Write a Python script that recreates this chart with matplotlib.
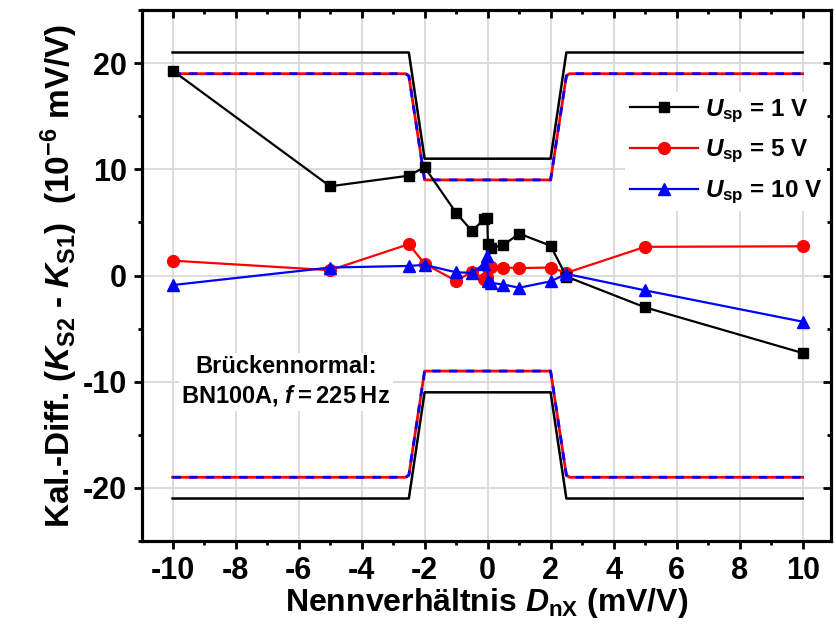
import matplotlib
matplotlib.use("Agg")
import matplotlib.pyplot as plt
from matplotlib.ticker import MultipleLocator

# Messdaten (Kal.-Diff. in 1e-6 mV/V)
x_data = [-10, -5, -2.5, -2, -1, -0.5, -0.1, -0.01, 0.01, 0.1, 0.5, 1, 2, 2.5, 5, 10]
u1 = [19.3, 8.4, 9.4, 10.2, 5.9, 4.2, 5.3, 5.45, 3.0, 2.6, 2.85, 3.95, 2.8, -0.1, -3.0, -7.3]
u5 = [1.4, 0.5, 2.95, 1.1, -0.5, 0.35, -0.3, -0.1, 0.7, 0.8, 0.75, 0.7, 0.75, 0.25, 2.7, 2.75]
u10 = [-0.9, 0.75, 0.9, 1.0, 0.3, 0.25, 1.1, 1.8, -0.5, -0.7, -0.85, -1.15, -0.55, 0.15, -1.4, -4.35]

# Grenzlinien
lim_x = [-10, -2.5, -2, 2, 2.5, 10]
lim_black = [21, 21, 11, 11, 21, 21]
lim2_x = [-10, -2.6, -2.5, -2, 2, 2.5, 2.6, 10]
lim_rb = [19, 19, 18.8, 9, 9, 18.8, 19, 19]

plt.rcParams['font.family'] = ['Liberation Sans', 'DejaVu Sans']
plt.rcParams['axes.unicode_minus'] = False
plt.rcParams['mathtext.fontset'] = 'custom'
plt.rcParams['mathtext.rm'] = 'Liberation Sans:bold'
plt.rcParams['mathtext.it'] = 'Liberation Sans:bold:italic'
plt.rcParams['mathtext.bf'] = 'Liberation Sans:bold'

fig = plt.figure(figsize=(8.37, 6.32), dpi=100)
ax = fig.add_axes([142/837, 1 - 541/632, (831-142)/837, (541-10)/632])

ax.plot(lim_x, lim_black, '-k', lw=1.8, zorder=2)
ax.plot(lim_x, [-v for v in lim_black], '-k', lw=1.8, zorder=2)
for s in (1, -1):
    ax.plot(lim2_x, [s*v for v in lim_rb], '-', color='red', lw=2, zorder=2)
    ax.plot(lim2_x, [s*v for v in lim_rb], '--', color='blue', lw=2, dashes=(3, 3), zorder=2)

ax.plot(x_data, u1, '-ks', lw=1.6, ms=7.5, label=r'$U_{\mathbf{sp}}$ = 1 V', zorder=4)
ax.plot(x_data, u5, '-o', color='red', lw=1.6, ms=8.5, label=r'$U_{\mathbf{sp}}$ = 5 V', zorder=3)
ax.plot(x_data, u10, '-^', color='blue', lw=1.6, ms=9, label=r'$U_{\mathbf{sp}}$ = 10 V', zorder=5)

ax.set_xlim(-10.97, 10.9)
ax.set_ylim(-25, 25)
ax.xaxis.set_major_locator(MultipleLocator(2))
ax.xaxis.set_minor_locator(MultipleLocator(1))
ax.yaxis.set_major_locator(MultipleLocator(10))
ax.yaxis.set_minor_locator(MultipleLocator(5))
ax.grid(True, which='major', color='#d9d9d9', lw=1.3, zorder=0)
ax.set_axisbelow(True)

for sp in ax.spines.values():
    sp.set_linewidth(2.2)
ax.tick_params(which='both', direction='out', width=2, top=False, right=False)
ax.tick_params(which='major', length=6, pad=5)
ax.tick_params(which='minor', length=3)
ax.tick_params(axis='both', labelsize=22)
for lab in ax.get_xticklabels() + ax.get_yticklabels():
    lab.set_fontweight('bold')

# Top/right ticks innen
axt = ax.twiny()
axt.set_xlim(ax.get_xlim())
axt.xaxis.set_major_locator(MultipleLocator(2))
axt.xaxis.set_minor_locator(MultipleLocator(1))
axt.tick_params(which='both', direction='in', width=2, labeltop=False)
axt.tick_params(which='major', length=6)
axt.tick_params(which='minor', length=3)
axr = ax.twinx()
axr.set_ylim(ax.get_ylim())
axr.yaxis.set_major_locator(MultipleLocator(10))
axr.yaxis.set_minor_locator(MultipleLocator(5))
axr.tick_params(which='both', direction='in', width=2, labelright=False)
axr.tick_params(which='major', length=6)
axr.tick_params(which='minor', length=3)
for a in (axt, axr):
    for sp in a.spines.values():
        sp.set_linewidth(2.2)

ax.set_xlabel(r'Nennverhältnis $D_{\mathbf{nX}}$ (mV/V)', fontsize=23, fontweight='bold', labelpad=0)
ax.set_ylabel(r'Kal.-Diff. ($K_{\mathbf{S2}}$ - $K_{\mathbf{S1}}$)  (10$^{\mathbf{-6}}$ mV/V)', fontsize=24,
              fontweight='bold', labelpad=2)

ax.text(-6.4, -10, 'Brückennormal:\nBN100A, $f$\u2009=\u2009225\u2009Hz', ha='center', va='center',
        fontsize=17, fontweight='bold', linespacing=1.25,
        bbox=dict(facecolor='white', edgecolor='none', pad=2), zorder=6)

leg = axr.legend(*ax.get_legend_handles_labels(), loc='upper right', bbox_to_anchor=(1.012, 0.868),
                 fontsize=17.5, frameon=True, edgecolor='none', framealpha=1,
                 handlelength=2.8, handletextpad=0.3, labelspacing=0.55, borderpad=0.2)
for t in leg.get_texts():
    t.set_fontweight('bold')

fig.savefig('out.png', dpi=100)
